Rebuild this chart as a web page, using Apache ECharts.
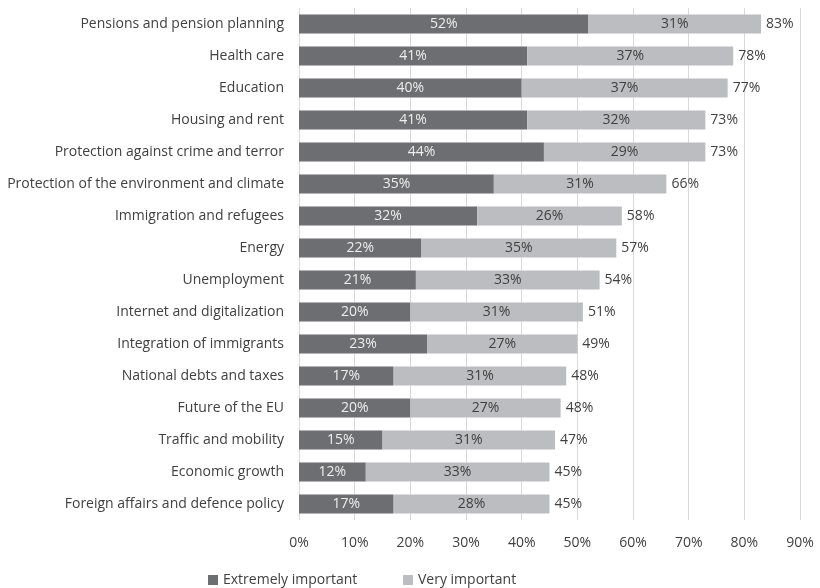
<!DOCTYPE html>
<html>
<head>
<meta charset="utf-8">
<script src="https://cdn.jsdelivr.net/npm/echarts@6/dist/echarts.min.js"></script>
<style>
  html, body { margin: 0; padding: 0; background: #fff; }
</style>
</head>
<body>
<div id="chart" style="width:820px;height:588px;"></div>
<script>
// topics, top to bottom
var topics = [
  "Pensions and pension planning",
  "Health care",
  "Education",
  "Housing and rent",
  "Protection against crime and terror",
  "Protection of the environment and climate",
  "Immigration and refugees",
  "Energy",
  "Unemployment",
  "Internet and digitalization",
  "Integration of immigrants",
  "National debts and taxes",
  "Future of the EU",
  "Traffic and mobility",
  "Economic growth",
  "Foreign affairs and defence policy"
];
var extremelyImportant = [52, 41, 40, 41, 44, 35, 32, 22, 21, 20, 23, 17, 20, 15, 12, 17];
var veryImportant = [31, 37, 37, 32, 29, 31, 26, 35, 33, 31, 27, 31, 27, 31, 33, 28];
var totals = [83, 78, 77, 73, 73, 66, 58, 57, 54, 51, 49, 48, 48, 47, 45, 45];
var xTicks = [0, 10, 20, 30, 40, 50, 60, 70, 80, 90];

var font = "Open Sans";
var myChart = echarts.init(document.getElementById("chart"));

myChart.setOption({
  animation: false,
  textStyle: { fontFamily: font },
  legend: [
    {
      data: ["Extremely important"],
      left: 203, top: 568,
      itemWidth: 10, itemHeight: 10, itemGap: 4,
      icon: "rect",
      textStyle: { fontFamily: font, fontSize: 14, color: "#404040" }
    },
    {
      data: ["Very important"],
      left: 398, top: 568,
      itemWidth: 10, itemHeight: 10, itemGap: 4,
      icon: "rect",
      textStyle: { fontFamily: font, fontSize: 14, color: "#404040" }
    }
  ],
  grid: { left: 299, right: 20, top: 8, bottom: 68, containLabel: false },
  xAxis: {
    type: "value",
    min: xTicks[0],
    max: xTicks[xTicks.length - 1],
    interval: 10,
    axisLine: { show: false },
    axisTick: { show: false },
    splitLine: { lineStyle: { color: "#d9d9d9", width: 1 } },
    axisLabel: {
      formatter: "{value}%",
      fontFamily: font, fontSize: 14, color: "#404040", margin: 16
    }
  },
  yAxis: {
    type: "category",
    inverse: true,
    data: topics,
    axisLine: { show: false },
    axisTick: { show: false },
    axisLabel: { fontFamily: font, fontSize: 14, color: "#404040", margin: 15 }
  },
  series: [
    {
      name: "Extremely important",
      type: "bar",
      stack: "total",
      barWidth: 19,
      data: extremelyImportant,
      itemStyle: { color: "#6d6e71" },
      label: {
        show: true, position: "inside", formatter: "{c}%",
        fontFamily: font, fontSize: 14, color: "#eeeeee"
      }
    },
    {
      name: "Very important",
      type: "bar",
      stack: "total",
      barWidth: 19,
      data: veryImportant,
      itemStyle: { color: "#bcbdc0" },
      label: {
        show: true, position: "inside", formatter: "{c}%",
        fontFamily: font, fontSize: 14, color: "#404040"
      }
    },
    {
      name: "Total",
      type: "bar",
      stack: "total",
      barWidth: 19,
      data: totals.map(function () { return 0; }),
      itemStyle: { color: "transparent" },
      label: {
        show: true, position: "right", distance: 5,
        formatter: function (p) { return totals[p.dataIndex] + "%"; },
        fontFamily: font, fontSize: 14, color: "#404040"
      }
    }
  ]
});
</script>
</body>
</html>
